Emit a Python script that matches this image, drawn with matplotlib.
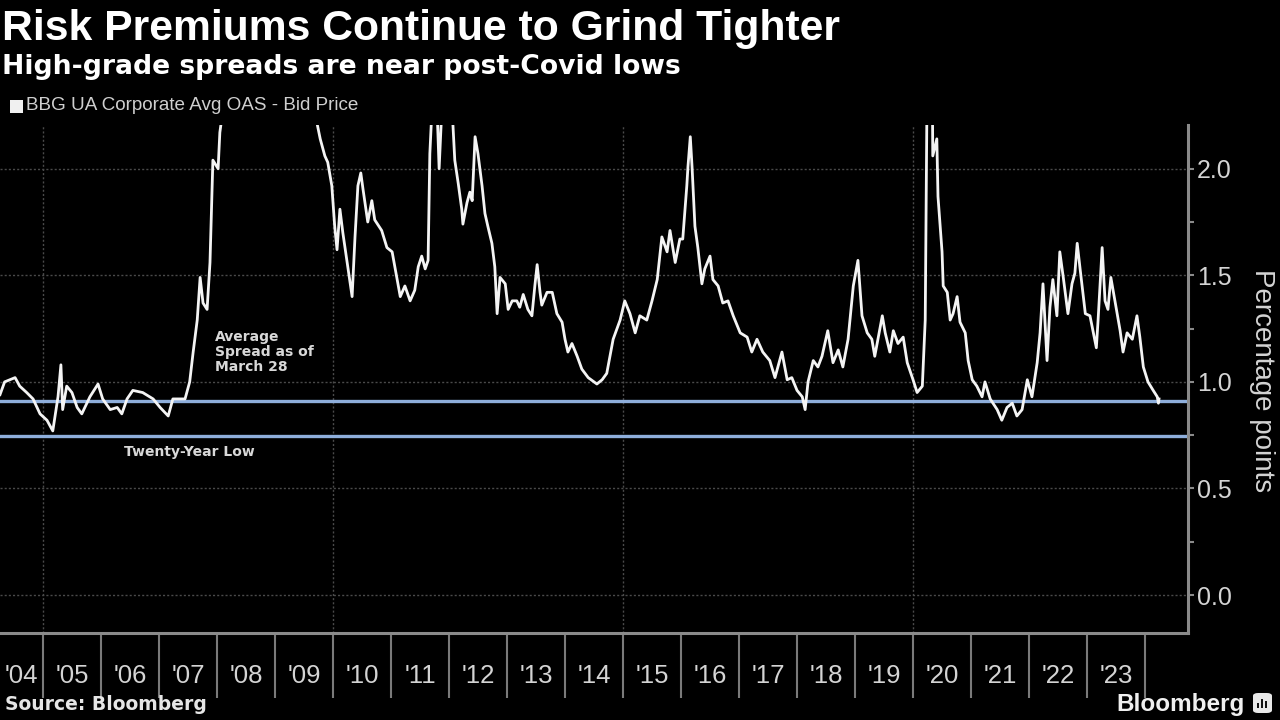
import matplotlib
matplotlib.use("Agg")
import matplotlib.pyplot as plt
from matplotlib import font_manager
from matplotlib.patches import Rectangle, FancyBboxPatch
from matplotlib.ticker import FixedLocator, NullFormatter, FixedFormatter

names = {f.name for f in font_manager.fontManager.ttflist}
def pick(*cands):
    for n in cands:
        if n in names:
            return n
    return "DejaVu Sans"

SANS = pick("Liberation Sans", "Arial", "Roboto")

# ---------------- data (decimal year, percentage points) ----------------
dates = [
    2004.26, 2004.34, 2004.52, 2004.60, 2004.72, 2004.83, 2004.95, 2005.07, 2005.17, 2005.26,
    2005.31, 2005.34, 2005.41, 2005.50, 2005.59, 2005.67, 2005.81, 2005.95, 2006.03, 2006.16,
    2006.28, 2006.36, 2006.45, 2006.55, 2006.72, 2006.90, 2007.02, 2007.16, 2007.24, 2007.36,
    2007.45, 2007.53, 2007.59, 2007.66, 2007.71, 2007.76, 2007.83, 2007.88, 2007.93, 2008.02,
    2008.05, 2008.09, 2008.15, 2008.22, 2008.35, 2008.50, 2008.75, 2008.95, 2009.20, 2009.40,
    2009.60, 2009.72, 2009.78, 2009.86, 2009.91, 2009.98, 2010.03, 2010.07, 2010.12, 2010.17,
    2010.24, 2010.33, 2010.38, 2010.43, 2010.48, 2010.52, 2010.60, 2010.67, 2010.72, 2010.84,
    2010.93, 2011.02, 2011.10, 2011.16, 2011.24, 2011.33, 2011.41, 2011.47, 2011.53, 2011.59,
    2011.64, 2011.67, 2011.71, 2011.78, 2011.83, 2011.88, 2011.97, 2012.05, 2012.10, 2012.16,
    2012.22, 2012.24, 2012.31, 2012.36, 2012.40, 2012.45, 2012.50, 2012.57, 2012.62, 2012.67,
    2012.74, 2012.79, 2012.83, 2012.88, 2012.97, 2013.02, 2013.09, 2013.17, 2013.22, 2013.28,
    2013.36, 2013.43, 2013.48, 2013.52, 2013.57, 2013.60, 2013.69, 2013.78, 2013.86, 2013.95,
    2014.00, 2014.05, 2014.12, 2014.21, 2014.29, 2014.40, 2014.55, 2014.64, 2014.72, 2014.83,
    2014.95, 2015.03, 2015.12, 2015.21, 2015.29, 2015.41, 2015.50, 2015.59, 2015.67, 2015.76,
    2015.81, 2015.90, 2015.98, 2016.03, 2016.10, 2016.12, 2016.16, 2016.19, 2016.24, 2016.29,
    2016.36, 2016.41, 2016.50, 2016.55, 2016.64, 2016.72, 2016.81, 2016.90, 2017.02, 2017.14,
    2017.22, 2017.31, 2017.41, 2017.53, 2017.62, 2017.74, 2017.83, 2017.91, 2018.00, 2018.09,
    2018.14, 2018.19, 2018.28, 2018.36, 2018.43, 2018.53, 2018.62, 2018.71, 2018.79, 2018.88,
    2018.97, 2019.05, 2019.12, 2019.21, 2019.29, 2019.34, 2019.47, 2019.52, 2019.60, 2019.66,
    2019.74, 2019.83, 2019.90, 2020.00, 2020.07, 2020.16, 2020.21, 2020.24, 2020.28, 2020.33,
    2020.34, 2020.41, 2020.43, 2020.50, 2020.52, 2020.59, 2020.64, 2020.69, 2020.76, 2020.81,
    2020.90, 2020.95, 2021.02, 2021.10, 2021.19, 2021.24, 2021.33, 2021.45, 2021.53, 2021.62,
    2021.71, 2021.79, 2021.88, 2021.97, 2022.05, 2022.14, 2022.19, 2022.24, 2022.31, 2022.36,
    2022.41, 2022.48, 2022.53, 2022.59, 2022.67, 2022.74, 2022.79, 2022.83, 2022.88, 2022.97,
    2023.05, 2023.16, 2023.19, 2023.26, 2023.31, 2023.36, 2023.41, 2023.48, 2023.57, 2023.62,
    2023.69, 2023.78, 2023.86, 2023.91, 2023.97, 2024.05, 2024.14, 2024.21, 2024.23, 2024.24,
]
spread = [
    0.94, 1.00, 1.02, 0.98, 0.95, 0.92, 0.85, 0.82, 0.77, 0.93,
    1.08, 0.87, 0.98, 0.95, 0.88, 0.85, 0.93, 0.99, 0.92, 0.87,
    0.88, 0.85, 0.92, 0.96, 0.95, 0.92, 0.88, 0.84, 0.92, 0.92,
    0.92, 1.00, 1.14, 1.29, 1.49, 1.37, 1.34, 1.56, 2.04, 2.00,
    2.17, 2.25, 2.40, 3.00, 2.50, 3.00, 4.50, 6.00, 5.00, 3.50,
    2.50, 2.22, 2.14, 2.06, 2.03, 1.92, 1.73, 1.62, 1.81, 1.70,
    1.57, 1.40, 1.68, 1.92, 1.98, 1.90, 1.75, 1.85, 1.76, 1.71,
    1.63, 1.61, 1.49, 1.40, 1.45, 1.38, 1.43, 1.54, 1.59, 1.53,
    1.57, 2.07, 2.30, 2.40, 2.00, 2.30, 2.50, 2.30, 2.04, 1.93,
    1.81, 1.74, 1.84, 1.89, 1.85, 2.15, 2.07, 1.92, 1.79, 1.73,
    1.65, 1.54, 1.32, 1.49, 1.46, 1.34, 1.38, 1.38, 1.35, 1.41,
    1.34, 1.31, 1.45, 1.55, 1.42, 1.36, 1.42, 1.42, 1.32, 1.28,
    1.20, 1.14, 1.18, 1.12, 1.06, 1.02, 0.99, 1.01, 1.04, 1.20,
    1.29, 1.38, 1.32, 1.23, 1.31, 1.29, 1.38, 1.48, 1.68, 1.61,
    1.71, 1.56, 1.67, 1.67, 1.92, 2.01, 2.15, 2.01, 1.73, 1.63,
    1.46, 1.53, 1.59, 1.48, 1.45, 1.37, 1.38, 1.31, 1.23, 1.21,
    1.14, 1.20, 1.14, 1.10, 1.02, 1.14, 1.01, 1.02, 0.96, 0.93,
    0.87, 1.00, 1.10, 1.07, 1.12, 1.24, 1.09, 1.15, 1.07, 1.20,
    1.45, 1.57, 1.31, 1.23, 1.20, 1.12, 1.31, 1.23, 1.14, 1.24,
    1.18, 1.21, 1.09, 1.01, 0.95, 0.98, 1.29, 2.30, 3.70, 2.50,
    2.06, 2.14, 1.87, 1.61, 1.45, 1.42, 1.29, 1.32, 1.40, 1.28,
    1.23, 1.10, 1.01, 0.98, 0.93, 1.00, 0.92, 0.87, 0.82, 0.88,
    0.90, 0.84, 0.87, 1.01, 0.93, 1.09, 1.23, 1.46, 1.10, 1.35,
    1.48, 1.31, 1.61, 1.49, 1.32, 1.46, 1.51, 1.65, 1.53, 1.32,
    1.31, 1.16, 1.29, 1.63, 1.38, 1.34, 1.49, 1.38, 1.24, 1.14,
    1.23, 1.20, 1.31, 1.21, 1.07, 1.00, 0.96, 0.93, 0.90, 0.92,
]
average_spread = 0.91
twenty_year_low = 0.745
year_labels = ["'04", "'05", "'06", "'07", "'08", "'09", "'10", "'11", "'12", "'13",
               "'14", "'15", "'16", "'17", "'18", "'19", "'20", "'21", "'22", "'23"]
label_years = list(range(2004, 2024))
boundary_years = list(range(2005, 2025))
grid_years = [2005, 2010, 2015, 2020]
y_ticks = [0.0, 0.5, 1.0, 1.5, 2.0]
y_minor = [0.25, 0.75, 1.25, 1.75]

X0, X1 = 2004.26, 2024.74

# ---------------- figure ----------------
W, H = 1280, 720
fig = plt.figure(figsize=(12.8, 7.2), dpi=100, facecolor="black")
ax = fig.add_axes([0, 1 - 633 / H, 1188 / W, (633 - 125) / H])
ax.set_facecolor("black")

GRID = "#4a4a4a"
for yv in y_ticks:
    ax.axhline(yv, color=GRID, lw=1.0, ls=(0, (1.5, 1.5)), zorder=1)
for gy in grid_years:
    ax.axvline(gy, color=GRID, lw=1.0, ls=(0, (1.5, 1.5)), zorder=1)

LINEBLUE = "#8eaedb"
ax.axhline(average_spread, color=LINEBLUE, lw=2.4, zorder=2)
ax.axhline(twenty_year_low, color=LINEBLUE, lw=2.4, zorder=2)
ax.plot(dates, spread, color="#f4f4f4", lw=2.0, zorder=3, solid_joinstyle="round")

ax.set_xlim(X0, X1)
ax.set_ylim(-0.178, 2.205)

for s in ["left", "top"]:
    ax.spines[s].set_visible(False)
for s in ["right", "bottom"]:
    ax.spines[s].set_color("#8a8a8a")
    ax.spines[s].set_linewidth(2.2)

# y axis on right
ax.yaxis.tick_right()
ax.yaxis.set_major_locator(FixedLocator(y_ticks))
ax.yaxis.set_major_formatter(FixedFormatter([f"{v:.1f}" for v in y_ticks]))
ax.yaxis.set_minor_locator(FixedLocator(y_minor))
ax.tick_params(axis="y", which="both", direction="out", length=4.5, width=1.5,
               color="#8a8a8a", labelcolor="#d4d4d4", labelsize=18, pad=2)
for t in ax.get_yticklabels():
    t.set_family(SANS)

# x axis: long separators at year boundaries, labels centred in each visible year
label_pos = [(max(y, X0) + min(y + 1, X1)) / 2 for y in label_years]
ax.xaxis.set_major_locator(FixedLocator(boundary_years))
ax.xaxis.set_major_formatter(NullFormatter())
ax.xaxis.set_minor_locator(FixedLocator(label_pos))
ax.xaxis.set_minor_formatter(FixedFormatter(year_labels))
ax.tick_params(axis="x", which="major", direction="out", length=47, width=1.5, color="#7a7a7a")
ax.tick_params(axis="x", which="minor", length=0, labelcolor="#d4d4d4", labelsize=18.5, pad=22)
for t in ax.get_xticklabels(minor=True):
    t.set_family(SANS)

# annotations
ax.text(2007.96, 1.14, "Average\nSpread as of\nMarch 28", color="#d8d8d8", fontsize=10,
        fontweight="bold", va="center", ha="left", linespacing=1.05, zorder=4)
ax.text(2006.39, 0.67, "Twenty-Year Low", color="#d8d8d8", fontsize=10,
        fontweight="bold", va="center", ha="left", zorder=4)

# titles
fig.text(2 / W, 1 - 40 / H, "Risk Premiums Continue to Grind Tighter", color="white",
         fontsize=30.7, fontweight="bold", family=SANS, va="baseline", ha="left")
fig.text(2 / W, 1 - 74 / H, "High-grade spreads are near post-Covid lows", color="white",
         fontsize=19.2, fontweight="bold", va="baseline", ha="left")

# legend
fig.patches.append(Rectangle((10 / W, 1 - 113 / H), 13 / W, 13 / H, transform=fig.transFigure,
                             facecolor="#f0f0f0", edgecolor="none"))
fig.text(26 / W, 1 - 106 / H, "BBG UA Corporate Avg OAS - Bid Price", color="#cfcfcf",
         fontsize=13.6, family=SANS, va="center", ha="left")

# y label
fig.text(1262 / W, 1 - 381 / H, "Percentage points", color="#d4d4d4", fontsize=20,
         family=SANS, rotation=270, ha="center", va="center")

# footer
fig.text(5 / W, 1 - 705 / H, "Source: Bloomberg", color="#e6e6e6", fontsize=13.5,
         fontweight="bold", va="center", ha="left")
fig.text(1245 / W, 1 - 704 / H, "Bloomberg", color="#f0f0f0", fontsize=17.5,
         fontweight="bold", family=SANS, va="center", ha="right")
fig.patches.append(FancyBboxPatch((1253 / W, 1 - 713 / H), 19 / W, 20 / H,
                                  boxstyle="round,pad=0,rounding_size=0.004",
                                  transform=fig.transFigure, facecolor="#e8e8e8", edgecolor="none"))
for i, hgt in enumerate([5, 9, 7]):
    fig.patches.append(Rectangle(((1257 + i * 4) / W, 1 - 708 / H), 2 / W, hgt / H,
                                 transform=fig.transFigure, facecolor="#111111", edgecolor="none"))

fig.savefig("out.png", dpi=100, facecolor="black")
